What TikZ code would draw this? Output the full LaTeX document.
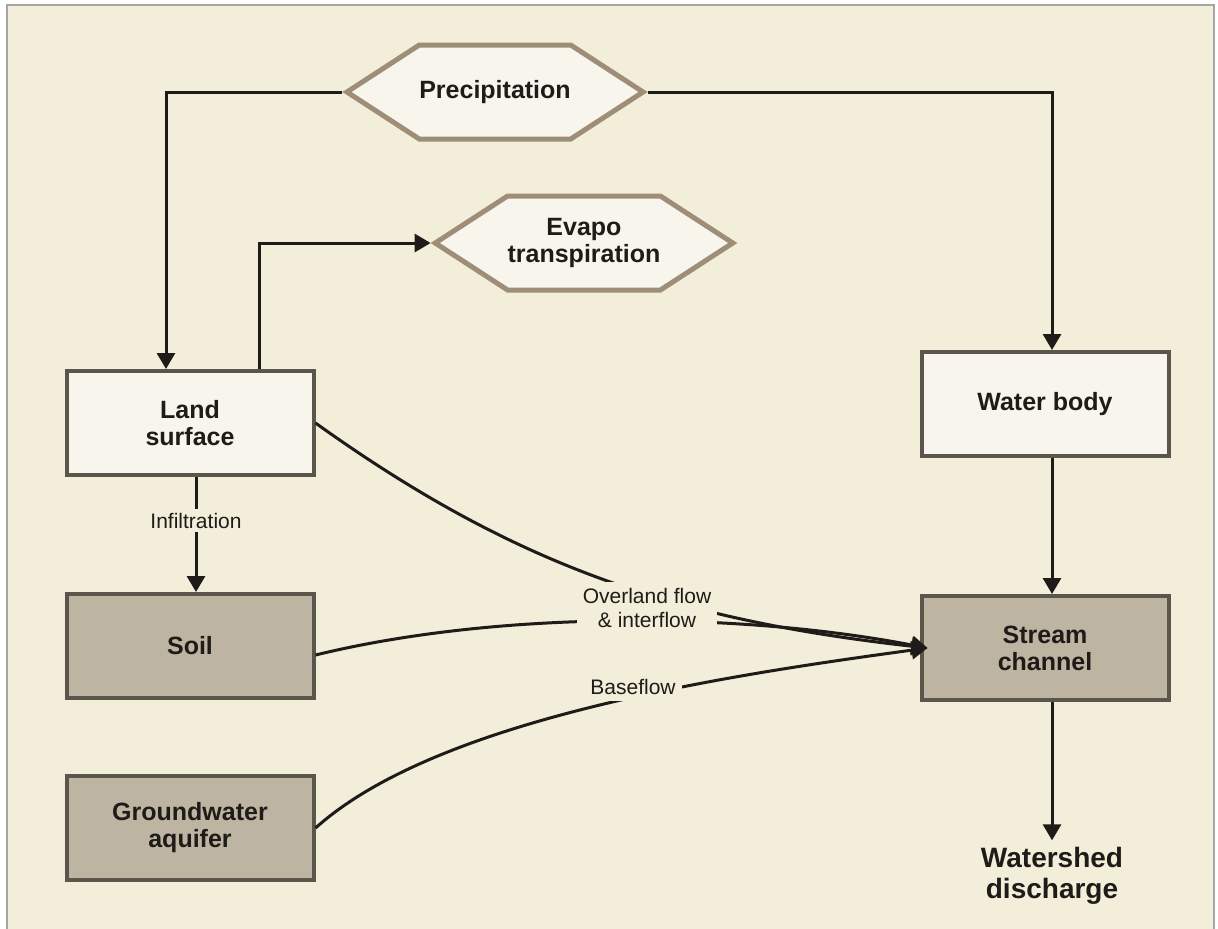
\documentclass[tikz,border=0pt]{standalone}
\usepackage{fontspec}
\setmainfont{Liberation Sans}
\usetikzlibrary{positioning}
\usetikzlibrary{calc}
\usetikzlibrary{arrows.meta}
\usetikzlibrary{shapes.symbols}
\definecolor{bgCream}{RGB}{243,238,218}
\definecolor{boxLight}{RGB}{248,245,237}
\definecolor{boxDark}{RGB}{190,180,162}
\definecolor{boxEdge}{RGB}{92,85,76}
\definecolor{hexEdge}{RGB}{158,142,120}
\definecolor{inkDark}{RGB}{30,27,24}

\begin{document}
\begin{tikzpicture}[x=0.5pt, y=-0.5pt,
    every node/.style={align=center, text=inkDark},
    boxText/.style={font=\bfseries\fontsize{12.5}{13.5}\selectfont},
    lightBox/.style={boxText, draw=boxEdge, fill=boxLight, line width=2pt, minimum width=123.5pt, minimum height=52pt},
    darkBox/.style={lightBox, fill=boxDark},
    hexBox/.style={boxText, signal, signal to=east and west, signal pointer angle=66, draw=hexEdge, fill=boxLight, line width=2.5pt, inner xsep=0pt, minimum height=47pt},
    flow/.style={draw=inkDark, line width=1.5pt, -{Triangle[length=8pt,width=9pt]}},
    flowLabel/.style={font=\fontsize{10.5}{12}\selectfont, fill=bgCream, inner sep=3pt}]

        % Background
        \useasboundingbox (0,0) rectangle (1218,928);
        \fill[white] (0,0) rectangle (1218,928);
        \draw[fill=bgCream, draw=black!35, line width=0.6pt] (7,5) rectangle (1214,940);

        % Hexagons
        \node[hexBox] (precipHex) at (495,92) {Precipitation};
        \node[hexBox] (evapoHex) at (584,243) {Evapo\\transpiration};

        % Left column
        \node[lightBox] (landBox) at (190,423) {Land\\surface};
        \node[darkBox] (soilBox) at (190,646) {Soil};
        \node[darkBox] (aquiferBox) at (190,828) {Groundwater\\aquifer};

        % Right column
        \node[lightBox] (waterBox) at (1045,404) {Water body};
        \node[darkBox] (streamBox) at (1045,648) {Stream\\channel};
        \node[font=\bfseries\fontsize{14}{15.5}\selectfont] (dischargeText) at (1052,876) {Watershed\\discharge};

        % Straight connectors
        \draw[flow] (precipHex.west) -| ([xshift=-12pt]landBox.north);
        \draw[flow] (precipHex.east) -| ([xshift=3.5pt]waterBox.north);
        \draw[flow] ([xshift=34.5pt]landBox.north) |- (evapoHex.west);
        \draw[flow] ([xshift=3pt]landBox.south) -- ([xshift=3pt]soilBox.north)
            node[pos=0.38, flowLabel, inner sep=2pt] (infilLabel) {Infiltration};
        \draw[flow] ([xshift=3.5pt]waterBox.south) -- ([xshift=3.5pt]streamBox.north);
        \draw[flow] ([xshift=3.5pt]streamBox.south) -- (dischargeText.north);

        % Curved flows into the stream
        \coordinate (streamIn) at ([xshift=4pt]streamBox.west);
        \draw[flow] (landBox.east) .. controls (518,568) and (679,620) .. (streamIn);
        \draw[flow] ([yshift=-4.5pt]soilBox.east) .. controls (500,610) and (740,612) .. (streamIn);
        \draw[flow] (aquiferBox.east) .. controls (438,718) and (729,675) .. (streamIn);

        % Flow labels
        \node[flowLabel] (overlandLabel) at (647,608) {Overland flow\\\& interflow};
        \node[flowLabel] (baseLabel) at (633,687) {Baseflow};

    \end{tikzpicture}
\end{document}
